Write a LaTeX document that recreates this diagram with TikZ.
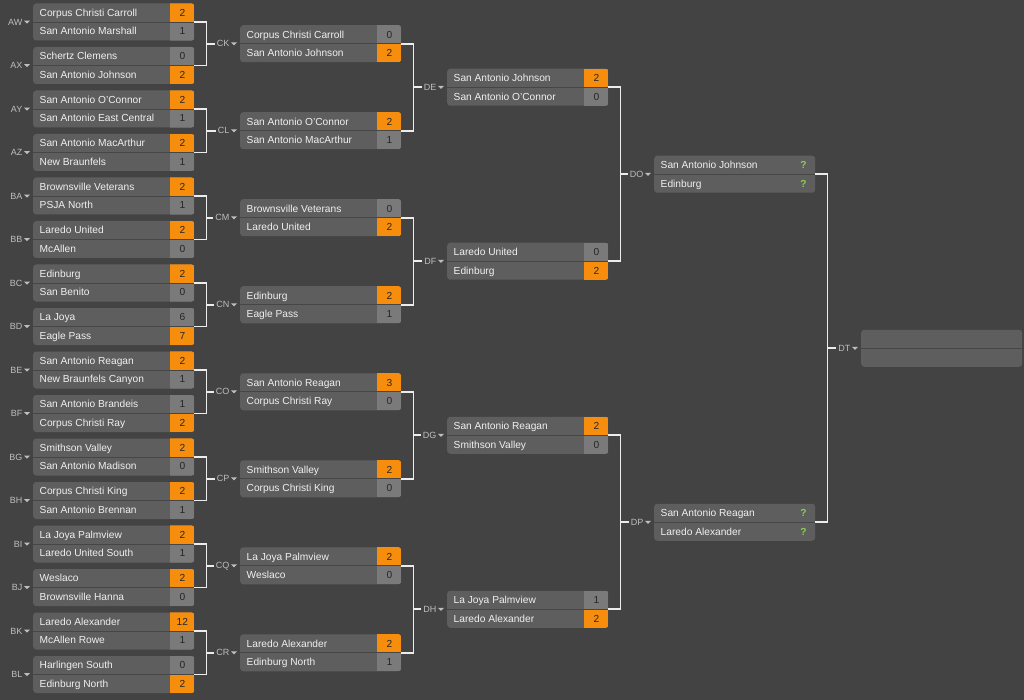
\documentclass[tikz,border=0pt]{standalone}
\usepackage{fontspec}
\setmainfont{Liberation Sans}
\usepackage{xcolor}
\definecolor{bgdark}{RGB}{67,67,67}
\definecolor{boxgray}{RGB}{94,94,94}
\definecolor{rowline}{RGB}{70,70,70}
\definecolor{cellgray}{RGB}{122,122,122}
\definecolor{winorange}{RGB}{247,141,12}
\definecolor{linkwhite}{RGB}{236,236,236}
\definecolor{labgray}{RGB}{190,190,190}
\definecolor{qgreen}{RGB}{140,205,80}
\usetikzlibrary{calc}
\tikzset{
  br_box/.style={rectangle,rounded corners=3pt,
    fill=boxgray,anchor=west,
    minimum width=161pt,minimum height=37pt,inner sep=0pt},
  br_team/.style={anchor=west,inner sep=0pt,
    text=white!94!black,
    font=\fontsize{10.2}{12}\selectfont,
    text height=7.3pt,text depth=0pt},
  br_score/.style={inner sep=0pt,text=black!85,
    font=\fontsize{10.2}{12}\selectfont,
    text height=7.3pt,text depth=0pt},
  br_open/.style={br_score,text=qgreen,
    font=\fontsize{10.2}{12}\selectfont\bfseries},
  br_label/.style={anchor=east,inner sep=0pt,
    text=labgray,font=\fontsize{9}{10}\selectfont,
    text height=6.4pt,text depth=0pt},
  br_link/.style={draw=linkwhite,line width=1.7pt},
}
% one match: name, x, y, team 1, score 1, team 2, score 2, winner (0 = open)
\newcommand{\game}[8]{%
  \node[br_box] (#1) at (#2,#3) {};
  \ifnum#8>0
    \ifnum#8=1 \colorlet{topcell}{winorange}\else\colorlet{topcell}{cellgray}\fi
    \ifnum#8=2 \colorlet{botcell}{winorange}\else\colorlet{botcell}{cellgray}\fi
    \begin{scope}
      \clip[rounded corners=3pt] (#1.south west) rectangle (#1.north east);
      \fill[topcell] ($(#1.north east)+(-24,0)$) rectangle (#1.east);
      \fill[botcell] ($(#1.east)+(-24,0)$) rectangle (#1.south east);
    \end{scope}
    \node[br_score] (#1-s1) at ($(#1.east)+(-12,-9.25)$) {#5};
    \node[br_score] (#1-s2) at ($(#1.east)+(-12,9.25)$) {#7};
  \else
    \node[br_open] (#1-s1) at ($(#1.east)+(-12,-9.25)$) {#5};
    \node[br_open] (#1-s2) at ($(#1.east)+(-12,9.25)$) {#7};
  \fi
  \draw[rowline,line width=0.8pt] (#1.west) -- (#1.east);
  \node[br_team] (#1-t1) at ($(#1.west)+(6.5,-9.25)$) {#4};
  \node[br_team] (#1-t2) at ($(#1.west)+(6.5,9.25)$) {#6};
  \node[br_label] (#1-lab) at ($(#1.west)+(-10.5,0)$) {#1};
  \fill[labgray] ($(#1.west)+(-9,-1.3)$) -- ++(6,0) -- ++(-3,3) -- cycle;
}

\begin{document}
\begin{tikzpicture}[x=1pt,y=-1pt]
  \fill[bgdark] (0,0) rectangle (1024,700);
  \useasboundingbox (0,0) rectangle (1024,700);

  % first round
  \game{AW}{33}{22}{Corpus Christi Carroll}{2}{San Antonio Marshall}{1}{1}
  \game{AX}{33}{65.5}{Schertz Clemens}{0}{San Antonio Johnson}{2}{2}
  \game{AY}{33}{109}{San Antonio O'Connor}{2}{San Antonio East Central}{1}{1}
  \game{AZ}{33}{152.5}{San Antonio MacArthur}{2}{New Braunfels}{1}{1}
  \game{BA}{33}{196}{Brownsville Veterans}{2}{PSJA North}{1}{1}
  \game{BB}{33}{239.5}{Laredo United}{2}{McAllen}{0}{1}
  \game{BC}{33}{283}{Edinburg}{2}{San Benito}{0}{1}
  \game{BD}{33}{326.5}{La Joya}{6}{Eagle Pass}{7}{2}
  \game{BE}{33}{370}{San Antonio Reagan}{2}{New Braunfels Canyon}{1}{1}
  \game{BF}{33}{413.5}{San Antonio Brandeis}{1}{Corpus Christi Ray}{2}{2}
  \game{BG}{33}{457}{Smithson Valley}{2}{San Antonio Madison}{0}{1}
  \game{BH}{33}{500.5}{Corpus Christi King}{2}{San Antonio Brennan}{1}{1}
  \game{BI}{33}{544}{La Joya Palmview}{2}{Laredo United South}{1}{1}
  \game{BJ}{33}{587.5}{Weslaco}{2}{Brownsville Hanna}{0}{1}
  \game{BK}{33}{631}{Laredo Alexander}{12}{McAllen Rowe}{1}{1}
  \game{BL}{33}{674.5}{Harlingen South}{0}{Edinburg North}{2}{2}

  % second round
  \game{CK}{240}{43.75}{Corpus Christi Carroll}{0}{San Antonio Johnson}{2}{2}
  \game{CL}{240}{130.75}{San Antonio O'Connor}{2}{San Antonio MacArthur}{1}{1}
  \game{CM}{240}{217.75}{Brownsville Veterans}{0}{Laredo United}{2}{2}
  \game{CN}{240}{304.75}{Edinburg}{2}{Eagle Pass}{1}{1}
  \game{CO}{240}{391.75}{San Antonio Reagan}{3}{Corpus Christi Ray}{0}{1}
  \game{CP}{240}{478.75}{Smithson Valley}{2}{Corpus Christi King}{0}{1}
  \game{CQ}{240}{565.75}{La Joya Palmview}{2}{Weslaco}{0}{1}
  \game{CR}{240}{652.75}{Laredo Alexander}{2}{Edinburg North}{1}{1}

  % third round
  \game{DE}{447}{87.25}{San Antonio Johnson}{2}{San Antonio O'Connor}{0}{1}
  \game{DF}{447}{261.25}{Laredo United}{0}{Edinburg}{2}{2}
  \game{DG}{447}{435.25}{San Antonio Reagan}{2}{Smithson Valley}{0}{1}
  \game{DH}{447}{609.25}{La Joya Palmview}{1}{Laredo Alexander}{2}{2}

  % semis and final
  \game{DO}{654}{174.25}{San Antonio Johnson}{?}{Edinburg}{?}{0}
  \game{DP}{654}{522.25}{San Antonio Reagan}{?}{Laredo Alexander}{?}{0}
  \game{DT}{861}{348.25}{}{}{}{}{0}

  \foreach \ta/\tb/\nx in {AW/AX/CK, AY/AZ/CL, BA/BB/CM, BC/BD/CN,
      BE/BF/CO, BG/BH/CP, BI/BJ/CQ, BK/BL/CR,
      CK/CL/DE, CM/CN/DF, CO/CP/DG, CQ/CR/DH,
      DE/DF/DO, DG/DH/DP, DO/DP/DT}{
    \draw[br_link] (\ta.east) -- ++(12,0) coordinate (v) |- (\tb.east);
    \draw[br_link] (v |- \nx.west) -- ([xshift=-2pt]\nx-lab.west);
  }
\end{tikzpicture}
\end{document}
